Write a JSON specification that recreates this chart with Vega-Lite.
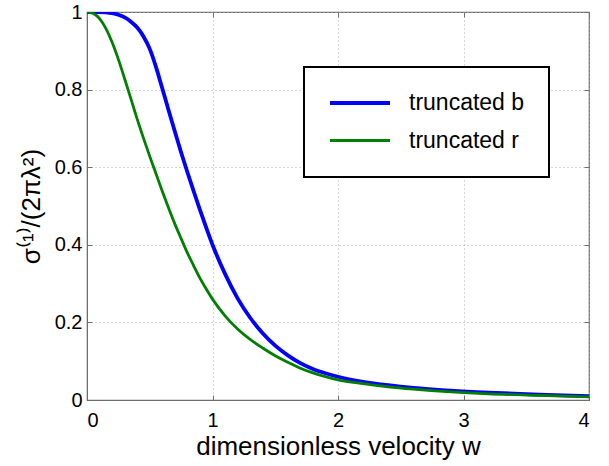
{
  "$schema": "https://vega.github.io/schema/vega-lite/v6.json",
  "width": 502,
  "height": 388,
  "autosize": "none",
  "padding": {"left": 87, "top": 12, "right": 20, "bottom": 66},
  "background": "white",
  "config": {
    "font": "Liberation Sans",
    "view": {"stroke": "#6e6e6e", "strokeWidth": 1.2},
    "axis": {
      "domainColor": "#6e6e6e",
      "tickColor": "#6e6e6e",
      "tickSize": -5,
      "labelColor": "black",
      "labelFontSize": 20,
      "titleFontSize": 26,
      "titleFontWeight": "normal",
      "titleColor": "black",
      "gridColor": "#b0b0b0",
      "gridDash": [1, 3],
      "gridWidth": 1
    },
    "legend": {
      "orient": "none",
      "legendX": 217,
      "legendY": 55,
      "strokeColor": "black",
      "strokeWidth": 2,
      "fillColor": "white",
      "padding": 24,
      "labelFontSize": 23,
      "labelColor": "black",
      "labelOffset": 57,
      "rowPadding": 14,
      "symbolStrokeWidth": 3.8,
      "symbolType": "M-1,0H5",
      "symbolSize": 400
    }
  },
  "data": {
    "values": [
      {"w": 0, "s": 1, "c": "truncated b"},
      {"w": 0.1, "s": 1.0, "c": "truncated b"},
      {"w": 0.15, "s": 0.999, "c": "truncated b"},
      {"w": 0.2, "s": 0.997, "c": "truncated b"},
      {"w": 0.25, "s": 0.993, "c": "truncated b"},
      {"w": 0.3, "s": 0.986, "c": "truncated b"},
      {"w": 0.35, "s": 0.975, "c": "truncated b"},
      {"w": 0.4, "s": 0.96, "c": "truncated b"},
      {"w": 0.45, "s": 0.937, "c": "truncated b"},
      {"w": 0.5, "s": 0.905, "c": "truncated b"},
      {"w": 0.55, "s": 0.858, "c": "truncated b"},
      {"w": 0.6, "s": 0.803, "c": "truncated b"},
      {"w": 0.65, "s": 0.747, "c": "truncated b"},
      {"w": 0.7, "s": 0.692, "c": "truncated b"},
      {"w": 0.75, "s": 0.638, "c": "truncated b"},
      {"w": 0.8, "s": 0.587, "c": "truncated b"},
      {"w": 0.85, "s": 0.538, "c": "truncated b"},
      {"w": 0.9, "s": 0.49, "c": "truncated b"},
      {"w": 0.95, "s": 0.444, "c": "truncated b"},
      {"w": 1.0, "s": 0.4, "c": "truncated b"},
      {"w": 1.1, "s": 0.325, "c": "truncated b"},
      {"w": 1.2, "s": 0.262, "c": "truncated b"},
      {"w": 1.3, "s": 0.212, "c": "truncated b"},
      {"w": 1.4, "s": 0.172, "c": "truncated b"},
      {"w": 1.5, "s": 0.14, "c": "truncated b"},
      {"w": 1.6, "s": 0.115, "c": "truncated b"},
      {"w": 1.7, "s": 0.095, "c": "truncated b"},
      {"w": 1.8, "s": 0.08, "c": "truncated b"},
      {"w": 1.9, "s": 0.069, "c": "truncated b"},
      {"w": 2.0, "s": 0.06, "c": "truncated b"},
      {"w": 2.2, "s": 0.047, "c": "truncated b"},
      {"w": 2.4, "s": 0.038, "c": "truncated b"},
      {"w": 2.6, "s": 0.031, "c": "truncated b"},
      {"w": 2.9, "s": 0.024, "c": "truncated b"},
      {"w": 3.2, "s": 0.019, "c": "truncated b"},
      {"w": 3.6, "s": 0.014, "c": "truncated b"},
      {"w": 4.0, "s": 0.01, "c": "truncated b"},
      {"w": 0, "s": 1, "c": "truncated r"},
      {"w": 0.05, "s": 0.996, "c": "truncated r"},
      {"w": 0.1, "s": 0.983, "c": "truncated r"},
      {"w": 0.15, "s": 0.958, "c": "truncated r"},
      {"w": 0.2, "s": 0.922, "c": "truncated r"},
      {"w": 0.25, "s": 0.878, "c": "truncated r"},
      {"w": 0.3, "s": 0.828, "c": "truncated r"},
      {"w": 0.35, "s": 0.776, "c": "truncated r"},
      {"w": 0.4, "s": 0.724, "c": "truncated r"},
      {"w": 0.45, "s": 0.675, "c": "truncated r"},
      {"w": 0.5, "s": 0.628, "c": "truncated r"},
      {"w": 0.55, "s": 0.583, "c": "truncated r"},
      {"w": 0.6, "s": 0.538, "c": "truncated r"},
      {"w": 0.65, "s": 0.495, "c": "truncated r"},
      {"w": 0.7, "s": 0.454, "c": "truncated r"},
      {"w": 0.75, "s": 0.416, "c": "truncated r"},
      {"w": 0.8, "s": 0.379, "c": "truncated r"},
      {"w": 0.85, "s": 0.346, "c": "truncated r"},
      {"w": 0.9, "s": 0.314, "c": "truncated r"},
      {"w": 0.95, "s": 0.286, "c": "truncated r"},
      {"w": 1.0, "s": 0.26, "c": "truncated r"},
      {"w": 1.1, "s": 0.217, "c": "truncated r"},
      {"w": 1.2, "s": 0.183, "c": "truncated r"},
      {"w": 1.3, "s": 0.156, "c": "truncated r"},
      {"w": 1.4, "s": 0.134, "c": "truncated r"},
      {"w": 1.5, "s": 0.114, "c": "truncated r"},
      {"w": 1.6, "s": 0.097, "c": "truncated r"},
      {"w": 1.7, "s": 0.082, "c": "truncated r"},
      {"w": 1.8, "s": 0.07, "c": "truncated r"},
      {"w": 1.9, "s": 0.06, "c": "truncated r"},
      {"w": 2.0, "s": 0.052, "c": "truncated r"},
      {"w": 2.2, "s": 0.042, "c": "truncated r"},
      {"w": 2.4, "s": 0.034, "c": "truncated r"},
      {"w": 2.6, "s": 0.028, "c": "truncated r"},
      {"w": 2.9, "s": 0.021, "c": "truncated r"},
      {"w": 3.2, "s": 0.016, "c": "truncated r"},
      {"w": 3.6, "s": 0.012, "c": "truncated r"},
      {"w": 4.0, "s": 0.008, "c": "truncated r"}
    ]
  },
  "layer": [
    {
      "mark": {"type": "line", "interpolate": "monotone", "clip": true},
      "encoding": {
        "x": {
          "field": "w", "type": "quantitative",
          "scale": {"domain": [0, 4], "nice": false, "zero": false},
          "axis": {"values": [0, 1, 2, 3, 4], "title": "dimensionless velocity w", "labelPadding": 15, "titlePadding": 3, "grid": true}
        },
        "y": {
          "field": "s", "type": "quantitative",
          "scale": {"domain": [0, 1], "nice": false},
          "axis": {"values": [0, 0.2, 0.4, 0.6, 0.8, 1], "format": "~g", "title": "σ⁽¹⁾/(2πλ²)", "labelPadding": 10, "titlePadding": 10, "grid": true}
        },
        "color": {
          "field": "c", "type": "nominal",
          "scale": {"domain": ["truncated b", "truncated r"], "range": ["#0000ff", "#007f00"]},
          "legend": {"title": null}
        },
        "strokeWidth": {
          "field": "c", "type": "nominal",
          "scale": {"domain": ["truncated b", "truncated r"], "range": [3.8, 2.8]},
          "legend": null
        }
      }
    },
    {
      "mark": {"type": "line", "opacity": 0},
      "encoding": {
        "x": {
          "field": "w", "type": "quantitative",
          "scale": {"domain": [0, 4], "nice": false, "zero": false},
          "axis": {"orient": "top", "values": [0, 1, 2, 3, 4], "labels": false, "title": null, "grid": false, "domain": false}
        },
        "y": {
          "field": "s", "type": "quantitative",
          "scale": {"domain": [0, 1], "nice": false},
          "axis": {"orient": "right", "values": [0, 0.2, 0.4, 0.6, 0.8, 1], "labels": false, "title": null, "grid": false, "domain": false}
        },
        "detail": {"field": "c", "type": "nominal"}
      }
    }
  ],
  "resolve": {"scale": {"x": "independent", "y": "independent"}}
}
